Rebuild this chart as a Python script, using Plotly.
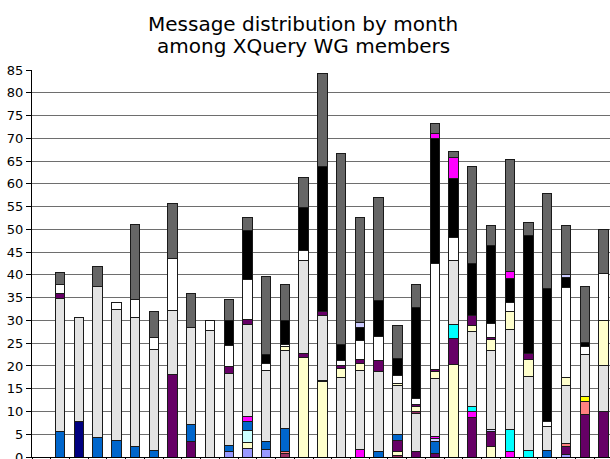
import plotly.graph_objects as go

# Month index (0 is an empty leading slot on the axis)
months = list(range(31))

# Stack series, bottom to top (message counts per month)
s_periwinkle = [0,0,0,0,0,0,0,0,0,0, 1.1,1.8,1.7,0,0,0,0,0,0,0, 0,0,0,0,0,0,0,0,0.6,0, 0]
s_plum       = [0,0,0,0,0,0,0,0,0,0, 0,0,0,0.7,0,0,0,0,0,0.4, 0,0,0,0,0,0,0,0,0,0, 0]
s_ivory      = [0,0,0,0,0,0,0,0,0,0, 0,1.3,0,0,21.8,16.5,0,0,0,0.7, 0,0,20.4,0,2.2,0,0,0,0,0, 0]
s_lightcyan  = [0,0,0,0,0,0,0,0,0,0, 0,2.8,0,0,0,0,0,0,0,0, 0,0,0,0,0,0,0,0,0,0, 0]
s_purple     = [0,0,0,0,0,0,0,18.1,3.5,0, 0,0,0,0,0.9,0.4,0,0,0,2.5, 1.1,0.7,5.7,8.6,3.3,0,0,0,1.6,9.4, 10.1]
s_salmon     = [0,0,0,0,0,0,0,0,0,0, 0,0,0,0.4,0,0,0,0,0,0, 0,0,0,0,0,0,0,0,0.7,2.8, 0]
s_blue       = [0,5.6,0,4.2,3.7,2.2,1.4,0,3.7,0, 1.5,1.9,1.8,5.1,0,0,0,0,1.1,1.3, 0,2.8,0,0,0,0,0,1.5,0,0, 0]
s_lavender   = [0,0,0,0,0,0,0,0,0,0, 0,0,0,0,0,0,0,0,0,0, 0,0.5,0,0,0.5,0,0,0,0,0, 0]
s_navy       = [0,0,7.9,0,0,0,0,0,0,0, 0,0,0,0,0,0,0,0,0,0, 0,0,0,0,0,0,0,0,0,0, 0]
s_magenta    = [0,0,0,0,0,0,0,0,0,0, 0,1.0,0,0,0,0,0,1.6,0,0, 0,0.5,0,1.3,0,1.1,0,0,0,0, 0]
s_cyan       = [0,0,0,0,0,0,0,0,0,0, 0,0,0,0,0,0,0,0,0,0, 0,0,2.9,1.1,0,4.9,1.5,0,0,0, 0]
s_yellow     = [0,0,0,0,0,0,0,0,0,0, 0,0,0,0,0,0,0,0,0,0, 0,0,0,0,0,0,0,0,0,1.0, 0]
s_lightgray  = [0,29.3,22.8,33.3,28.6,28.5,22.2,14.1,21.3,27.7, 15.8,20.3,15.5,17.1,20.5,14.2,17.4,17.4,17.6,10.8, 8.4,12.8,14.2,16.5,17.4,22.0,16.1,5.1,12.8,9.3, 10.0]
s_plum2      = [0,0,0,0,0,0,0,0,0,0, 0,0,0,0,0,0,0,0,0,0, 0.4,0,0,0,0,0,0,0,0,0, 0]
s_ivory2     = [0,0,0,0,0,0,0,0,0,0, 0,0,0,0.9,0,0,2.0,1.5,0,0.5, 1.2,1.5,0,1.4,2.4,4.0,3.8,0,1.7,0, 9.9]
s_purple2    = [0,1.0,0,0,0,0,0,0,0,0, 1.4,1.1,0,0,0,0.9,0.7,0.9,2.5,0, 0.5,0.5,0,2.2,0.4,0,1.3,0,0,0, 0]
s_white      = [0,1.9,0,0,1.7,3.9,2.6,11.3,0,2.3, 4.7,8.7,1.5,0.5,2.2,0,1.1,4.2,5.3,1.6, 1.2,23.1,5.1,0,3.1,2.0,0,1.3,19.9,1.8, 10.3]
s_black      = [0,0,0,0,0,0,0,0,0,0, 5.4,10.8,2.0,5.3,9.5,31.8,3.5,2.8,7.9,3.9, 20.1,27.5,12.8,11.3,17.2,5.2,26.0,29.1,2.2,0.9, 0]
s_lavender2  = [0,0,0,0,0,0,0,0,0,0, 0,0,0,0,0,0,0,1.2,0,0, 0,0,0,0,0,0,0,0,0.5,0, 0]
s_magenta2   = [0,0,0,0,0,0,0,0,0,0, 0,0,0,0,0,0,0,0,0,0, 0,1.1,4.6,0,0,1.6,0,0,0,0, 0]
s_darkgray   = [0,2.8,0,4.4,0,16.5,5.8,12.2,7.4,0, 4.7,2.9,17.2,7.8,6.4,20.4,41.9,22.9,22.7,7.2, 4.9,2.2,1.5,21.4,4.4,24.5,2.9,20.9,10.9,12.3, 9.7]

series = [
    ("Member 1", s_periwinkle, "#9999FF"),
    ("Member 2", s_plum, "#993366"),
    ("Member 3", s_ivory, "#FFFFCC"),
    ("Member 4", s_lightcyan, "#CCFFFF"),
    ("Member 5", s_purple, "#660066"),
    ("Member 6", s_salmon, "#FF8080"),
    ("Member 7", s_blue, "#0066CC"),
    ("Member 8", s_lavender, "#CCCCFF"),
    ("Member 9", s_navy, "#000080"),
    ("Member 10", s_magenta, "#FF00FF"),
    ("Member 11", s_cyan, "#00FFFF"),
    ("Member 12", s_yellow, "#FFFF00"),
    ("Member 13", s_lightgray, "#E3E3E3"),
    ("Member 14", s_plum2, "#993366"),
    ("Member 15", s_ivory2, "#FFFFCC"),
    ("Member 17", s_purple2, "#660066"),
    ("Member 18", s_white, "#FFFFFF"),
    ("Member 19", s_black, "#000000"),
    ("Member 20", s_lavender2, "#CCCCFF"),
    ("Member 22", s_magenta2, "#FF00FF"),
    ("Member 23", s_darkgray, "#666666"),
]

fig = go.Figure()
for name, vals, color in series:
    fig.add_trace(go.Bar(
        x=months, y=[v if v else None for v in vals], name=name,
        width=0.5, marker=dict(color=color, line=dict(color="#1a1a1a", width=1)),
    ))

font = "DejaVu Sans, Verdana, sans-serif"
fig.update_layout(
    barmode="stack",
    width=610, height=459,
    margin=dict(l=32, r=0, t=70, b=2, autoexpand=False),
    paper_bgcolor="white", plot_bgcolor="white",
    showlegend=False,
    font=dict(family=font, color="black", size=12),
    xaxis=dict(range=[-0.5, 30.35], showticklabels=False, showgrid=False, automargin=False,
               tickvals=[k + 0.5 for k in range(-1, 31)], ticks="outside", ticklen=5,
               tickcolor="black", showline=True, linecolor="black", linewidth=1, zeroline=False),
    yaxis=dict(range=[0, 85], tick0=0, dtick=5, ticks="outside", ticklen=5, tickcolor="black",
               automargin=False, ticklabelstandoff=0, ticklabeloverflow="allow",
               showline=True, linecolor="black", linewidth=1, gridcolor="#6e6e6e", gridwidth=1,
               zeroline=False, tickfont=dict(size=13, family=font, color="black")),
    annotations=[
        dict(text="Message distribution by month", x=0.4696, y=1.119, xref="paper", yref="paper",
             xanchor="center", yanchor="middle", showarrow=False, font=dict(size=20, family=font, color="black")),
        dict(text="among XQuery WG members", x=0.4696, y=1.062, xref="paper", yref="paper",
             xanchor="center", yanchor="middle", showarrow=False, font=dict(size=20, family=font, color="black")),
    ],
)

fig.write_html(
    "out.html",
    config={"displayModeBar": False},
    post_script="document.body.style.margin='0';document.body.style.padding='0';"
                "document.documentElement.style.overflow='hidden';",
)
